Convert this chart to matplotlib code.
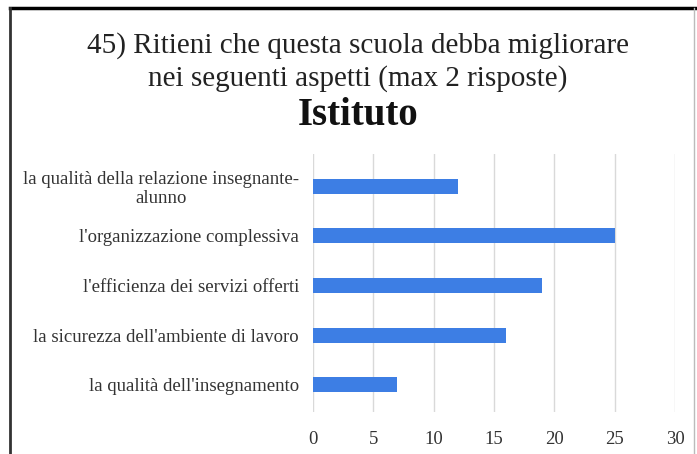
import matplotlib.pyplot as plt
from matplotlib.lines import Line2D

categories = [
    "la qualità della relazione insegnante-\nalunno",
    "l'organizzazione complessiva",
    "l'efficienza dei servizi offerti",
    "la sicurezza dell'ambiente di lavoro",
    "la qualità dell'insegnamento",
]
values = [12, 25, 19, 16, 7]
xticks = [0, 5, 10, 15, 20, 25, 30]

plt.rcParams['font.family'] = ['Liberation Serif', 'DejaVu Serif']

W, H = 697, 454
fig = plt.figure(figsize=(W / 100, H / 100), dpi=100)
ax = fig.add_axes([313 / W, 1 - 412 / H, (675 - 313) / W, (412 - 154) / H])

pos = list(range(len(categories)))[::-1]
ax.barh(pos, values, height=0.3, color='#3d7ee4', zorder=3)
ax.set_xlim(0, 30)
ax.set_ylim(-0.55, 4.65)
ax.set_xticks(xticks)
ax.set_yticks(pos)
ax.set_yticklabels(categories, multialignment='center', linespacing=1.1)
ax.xaxis.grid(True, color='#d9d9d9', linewidth=1, zorder=0)
for sp in ax.spines.values():
    sp.set_visible(False)
ax.tick_params(length=0, labelsize=13.5, colors='#333333')
ax.tick_params(axis='y', pad=10)
ax.tick_params(axis='x', pad=14)

tx = 358 / W
fig.text(tx, 1 - 46 / H, "45) Ritieni che questa scuola debba migliorare",
         ha='center', va='center', fontsize=21, color='#222222')
fig.text(tx, 1 - 79 / H, "nei seguenti aspetti (max 2 risposte)",
         ha='center', va='center', fontsize=21, color='#222222')
fig.text(tx, 1 - 115 / H, "Istituto", ha='center', va='center',
         fontsize=28, fontweight='bold', color='#111111')

# frame lines around the pasted chart
fig.add_artist(Line2D([10 / W, 1], [1 - 8 / H, 1 - 8 / H], color='black', linewidth=2.5))
fig.add_artist(Line2D([10 / W, 10 / W], [0, 1 - 8 / H], color='#333333', linewidth=2))
fig.add_artist(Line2D([694 / W, 694 / W], [0, 1 - 8 / H], color='#bbbbbb', linewidth=1))

fig.savefig('out.png', dpi=100)
